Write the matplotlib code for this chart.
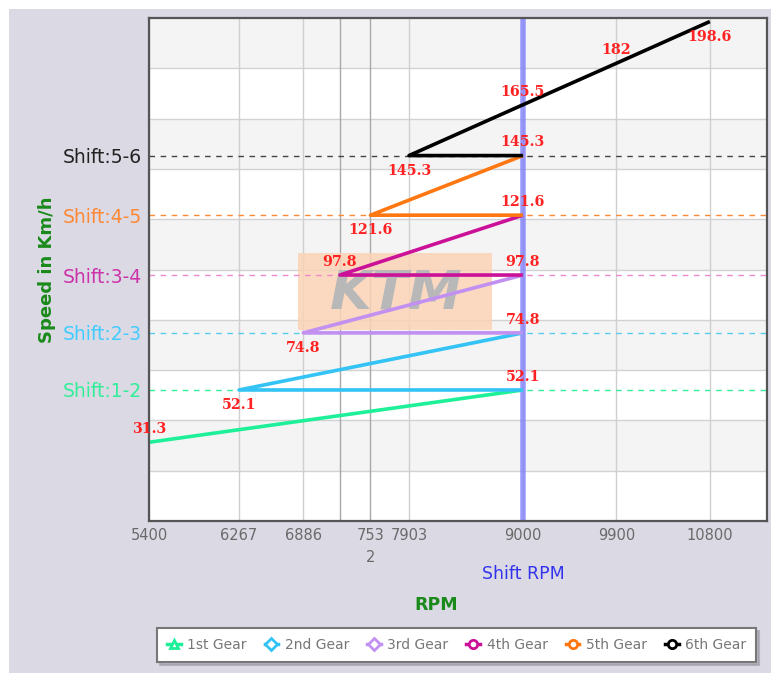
import matplotlib.pyplot as plt
from matplotlib.lines import Line2D
from matplotlib.patches import Rectangle

# gear data (rpm / km/h)
gears = ['1st Gear', '2nd Gear', '3rd Gear', '4th Gear', '5th Gear', '6th Gear']
shift_rpm = 9000
start_rpm = [5400, 6267, 6886, 7238, 7532, 7903]
start_kmh = [31.3, 52.1, 74.8, 97.8, 121.6, 145.3]
shift_kmh = [52.1, 74.8, 97.8, 121.6, 145.3, 165.5]
top_rpm = [9900, 10800]
top_kmh = [182, 198.6]

shift_names = ['Shift:1-2', 'Shift:2-3', 'Shift:3-4', 'Shift:4-5', 'Shift:5-6']
shift_levels = [52.1, 74.8, 97.8, 121.6, 145.3]

xticks = [5400, 6267, 6886, 7238, 7532, 7903, 9000, 9900, 10800]
xtick_labels = ['5400', '6267', '6886', '', '753\n2', '7903', '9000', '9900', '10800']

# styles
gear_colors = ['#1ef09a', '#33c4f5', '#c290f0', '#cc1199', '#ff7711', '#000000']
gear_markers = ['^', 'D', 'D', 'o', 'o', 'o']
shift_line_colors = ['#33ee99', '#55ccee', '#ee88cc', '#ff8833', '#444444']
shift_text_colors = ['#33ee99', '#44ccff', '#cc33aa', '#ff8833', '#222222']
label_red = '#ff2222'

fig = plt.figure(figsize=(7.71, 6.73), dpi=100, facecolor='white')
fig.patches.append(Rectangle((9 / 771, 0), 1, 1 - 9 / 673, transform=fig.transFigure,
                             facecolor='#dad9e4', edgecolor='none', zorder=-10))

ax = fig.add_axes([149 / 771, 1 - 521 / 673, 618 / 771, 503 / 673])
ax.set_facecolor('white')
ax.set_xlim(5400, 11350)
ax.set_ylim(0, 200)

# alternating bands
for y0 in range(20, 200, 40):
    ax.axhspan(y0, y0 + 20, color='#f4f4f4', zorder=0, lw=0)
for y in range(20, 200, 20):
    ax.axhline(y, color='#d2d2d2', lw=1, zorder=0.5)
for x in xticks:
    c = '#a8a8a8' if x in (7238, 7532) else '#cfcfcf'
    ax.axvline(x, color=c, lw=1, zorder=0.5)

# KTM watermark
ax.add_patch(Rectangle((0.241, 0.380), 0.314, 0.152, transform=ax.transAxes,
                       facecolor='#fbd3b6', edgecolor='none', alpha=0.85, zorder=0.7))
ax.text(0.400, 0.452, 'KTM', transform=ax.transAxes, fontsize=39, color='#b8b8b8',
        fontweight='bold', fontstyle='italic', ha='center', va='center', zorder=0.8)

# shift lines
for lvl, c in zip(shift_levels, shift_line_colors):
    ax.axhline(lvl, color=c, lw=1, dashes=(4, 4), zorder=1)

ax.axvline(shift_rpm, color='#7a7aff', lw=4, alpha=0.75, zorder=1.5)

# gear lines
for i, g in enumerate(gears):
    if i == 0:
        xs = [start_rpm[0], shift_rpm]
        ys = [start_kmh[0], shift_kmh[0]]
    else:
        xs = [shift_rpm, start_rpm[i], shift_rpm]
        ys = [start_kmh[i], start_kmh[i], shift_kmh[i]]
    if i == 5:
        xs = xs + top_rpm
        ys = ys + top_kmh
    ax.plot(xs, ys, color=gear_colors[i], lw=2.6, zorder=2, solid_capstyle='butt')

# value labels
def put_label(x, y, above):
    dy = 9.5 if above else -11
    ax.annotate(f'{y:g}', (x, y), xytext=(0, dy), textcoords='offset points',
                ha='center', va='center', color=label_red, fontsize=10.3,
                fontweight='bold', family='DejaVu Serif', zorder=3)

put_label(start_rpm[0], start_kmh[0], True)
for i in range(1, 6):
    put_label(start_rpm[i], start_kmh[i], i == 3)
for v in shift_kmh:
    put_label(shift_rpm, v, True)
put_label(top_rpm[0], top_kmh[0], True)
put_label(top_rpm[1], top_kmh[1], False)

# axes cosmetics
ax.set_xticks(xticks)
ax.set_xticklabels(xtick_labels, fontsize=10.5, color='#6a6a6a', linespacing=1.6)
ax.set_yticks(shift_levels)
ax.set_yticklabels(shift_names, fontsize=13.5)
for t, c in zip(ax.get_yticklabels(), shift_text_colors):
    t.set_color(c)
ax.tick_params(length=0, pad=5)
for s in ax.spines.values():
    s.set_color('#555555')
    s.set_linewidth(1.6)

ax.set_ylabel('Speed in Km/h', fontsize=13, fontweight='bold', color='#1a8a1a', labelpad=5)
fig.text(523 / 771, 1 - 574 / 673, 'Shift RPM', fontsize=12.5, color='#3333ee',
         ha='center', va='center')
fig.text(436 / 771, 1 - 605 / 673, 'RPM', fontsize=12.5, color='#1a8a1a',
         fontweight='bold', ha='center', va='center')

handles = [Line2D([], [], color=c, lw=2.5, marker=m, markersize=6, markerfacecolor='white',
                  markeredgecolor=c, markeredgewidth=2)
           for c, m in zip(gear_colors, gear_markers)]
leg = fig.legend(handles, gears, loc='center', bbox_to_anchor=(0.592, 0.0416), ncol=6,
                 fontsize=10, handlelength=1.0, handletextpad=0.45, columnspacing=1.3,
                 fancybox=False, shadow={'color': '#9a9aa4', 'alpha': 0.6, 'ox': 2, 'oy': -2},
                 edgecolor='#777777', framealpha=1, borderpad=0.7)
leg.get_frame().set_linewidth(1.5)
for t in leg.get_texts():
    t.set_color('#777777')

fig.savefig('out.png', dpi=100, facecolor=fig.get_facecolor())
